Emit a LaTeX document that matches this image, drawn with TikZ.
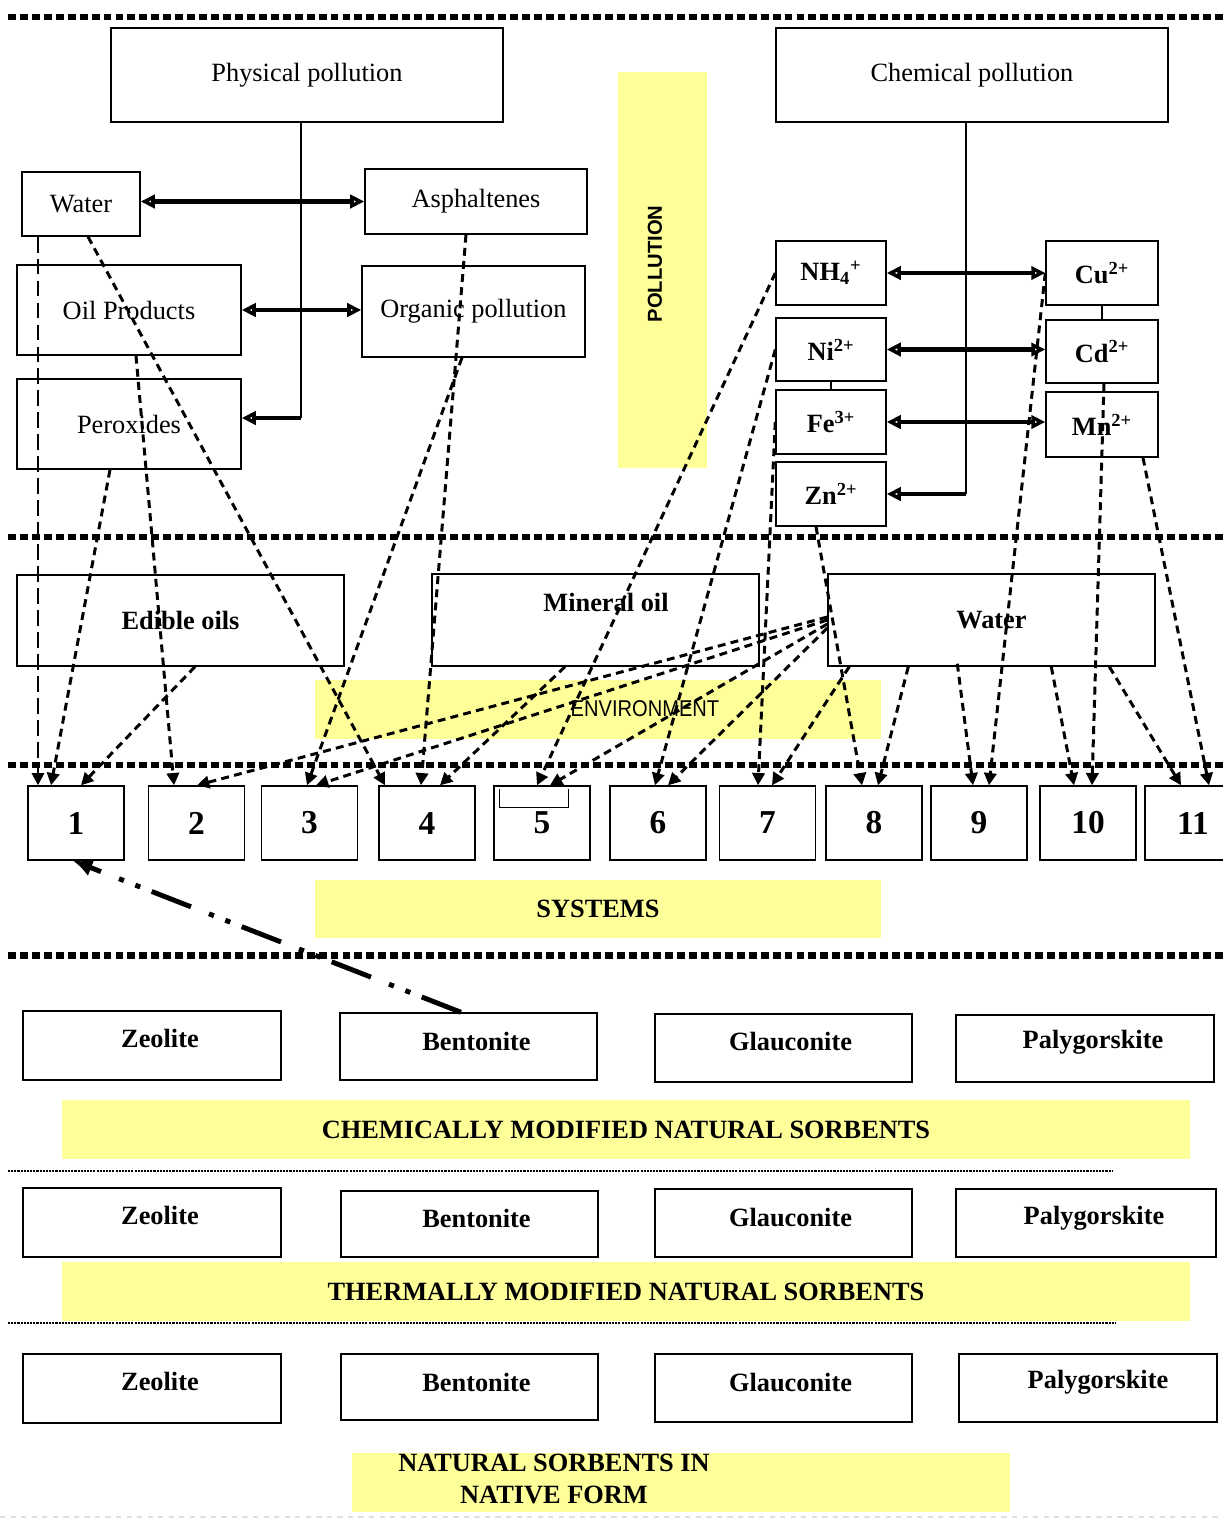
\documentclass[tikz,border=0pt]{standalone}
\usepackage{fontspec}
\setmainfont{Liberation Serif}
\newfontfamily\sansfont{Liberation Sans}
\newfontfamily\narrowsans[FakeStretch=0.88]{Liberation Sans}
\usetikzlibrary{arrows.meta}
\usetikzlibrary{calc}
\definecolor{bandyellow}{HTML}{FFFF99}

\begin{document}
\begin{tikzpicture}[x=0.02cm, y=-0.02cm,
    >={Triangle[open,length=8pt,width=7.5pt]},
    bx/.style 2 args={draw, line width=0.8pt, minimum width=#1*0.02cm,
      minimum height=#2*0.02cm, inner sep=1pt, font=\fontsize{15}{18}\selectfont},
    bxb/.style 2 args={bx={#1}{#2}, font=\fontsize{15}{18}\selectfont\bfseries},
    sysbox/.style={bx={96}{74}, font=\fontsize{19}{22}\selectfont\bfseries},
    band/.style 2 args={fill=bandyellow, minimum width=#1*0.02cm,
      minimum height=#2*0.02cm, inner sep=0pt, font=\fontsize{15}{18}\selectfont\bfseries},
    sorbtxt/.style={inner sep=0pt, font=\fontsize{15}{18}\selectfont\bfseries},
    sepline/.style={line width=3.4pt, dash pattern=on 4.5pt off 2.3pt},
    thinsep/.style={line width=1.1pt, dash pattern=on 1.2pt off 0.6pt},
    arw/.style={line width=2.4pt},
    trunk/.style={line width=0.7pt},
    dsh/.style={-{Triangle[length=7pt,width=7pt]}, line width=1.7pt,
      dash pattern=on 4.5pt off 3pt},
    ldsh/.style={-{Triangle[length=7pt,width=7pt]}, line width=1.4pt,
      dash pattern=on 9pt off 3.5pt},
    dshdot/.style={-{Latex[length=11pt,width=10pt]}, line width=2.8pt,
      dash pattern=on 24pt off 7pt on 3pt off 7pt on 3pt off 11pt}]

      \useasboundingbox (0,0) rectangle (1223,1519);

      % yellow bands
      \node [band={89}{396}, name=polband] at (662.5,270) {};
      \node [rotate=90, name=poltxt, font=\sansfont\bfseries\fontsize{11.5}{13}\selectfont]
      at (655,264) {POLLUTION};
      \node [band={566}{59}, name=envband] at (598,709.5) {};
      \node [name=envtxt, font=\narrowsans\fontsize{13}{15}\selectfont] at (645,709) {ENVIRONMENT};
      \node [band={566}{58}, name=sysband] at (598,909) {SYSTEMS};
      \node [band={1128}{59}, name=band1] at (626,1129.5) {CHEMICALLY MODIFIED NATURAL SORBENTS};
      \node [band={1128}{59}, name=band2] at (626,1291.5) {THERMALLY MODIFIED NATURAL SORBENTS};
      \node [band={658}{59}, name=band3] at (681,1482.5) {};
      \node [align=center, name=nattxt, font=\fontsize{15}{18.2}\selectfont\bfseries]
      at (554,1479) {NATURAL SORBENTS IN\\NATIVE FORM};

      % separators
      \draw [sepline] (8,17) -- (1223,17);
      \draw [sepline] (8,537) -- (1223,537);
      \draw [sepline] (8,765) -- (1223,765);
      \draw [sepline, line width=4pt] (8,955) -- (1223,955);
      \draw [thinsep] (8,1171) -- (1113,1171);
      \draw [thinsep] (8,1323) -- (1116,1323);
      \draw [gray!25, dashed, line width=0.6pt] (0,1517) -- (1223,1517);

      % pollution: physical
      \node [bx={392}{94}, name=phys] at (307,75) {Physical pollution};
      \node [bx={118}{64}, name=wtr] at (81,204) {Water};
      \node [bx={222}{65}, name=asph] at (476,201.5) {Asphaltenes};
      \node [bx={224}{90}, name=oilp] at (129,310) {Oil Products};
      \node [bx={223}{91}, name=orgp] at (473.5,311.5) {Organic pollution};
      \node [bx={224}{90}, name=perox] at (129,424) {Peroxides};

      \coordinate (phystop) at ($(phys.south)+(-6,0)$);
      \coordinate (physend) at ($(perox.east)+(0,-6)$);
      \draw [trunk] (phystop) -- (phystop |- physend);
      \draw [arw, ->] (phystop |- physend) -- (physend);
      \draw [arw, <->] (wtr.east |- asph.west) -- (asph.west);
      \draw [arw, <->] (oilp.east) -- (oilp.east -| orgp.west);

      % pollution: chemical
      \node [bx={392}{94}, name=chem] at (972,75) {Chemical pollution};
      \node [bxb={110}{64}, name=nh] at (831,273) {NH\textsubscript{4}\textsuperscript{+}};
      \node [bxb={110}{63}, name=ni] at (831,349.5) {Ni\textsuperscript{2+}};
      \node [bxb={110}{64}, name=fe] at (831,422) {Fe\textsuperscript{3+}};
      \node [bxb={110}{64}, name=zn] at (831,494) {Zn\textsuperscript{2+}};
      \node [bxb={112}{64}, name=cu] at (1102,273) {Cu\textsuperscript{2+}};
      \node [bxb={112}{63}, name=cd] at (1102,351.5) {Cd\textsuperscript{2+}};
      \node [bxb={112}{65}, name=mn] at (1102,424.5) {Mn\textsuperscript{2+}};

      \coordinate (chemtop) at ($(chem.south)+(-6,0)$);
      \draw [trunk] (chemtop) -- (chemtop |- zn.east);
      \draw [arw, ->] (chemtop |- zn.east) -- (zn.east);
      \draw [arw, <->] (nh.east) -- (cu.west);
      \draw [arw, <->] (ni.east) -- (ni.east -| cd.west);
      \draw [arw, <->] (fe.east) -- (fe.east -| mn.west);
      \draw [trunk] (cu.south) -- (cd.north);
      \draw [trunk] (ni.south) -- (fe.north);

      % environment
      \node [bxb={327}{91}, name=edib] at (180.5,620.5) {Edible oils};
      \node [bxb={327}{92}, name=minoil] at (595.5,620) {};
      \node [sorbtxt, name=mintxt] at (606,602) {Mineral oil};
      \node [bxb={327}{92}, name=wenv] at (991.5,620) {Water};

      % systems
      \node [sysbox, name=s1] at (76,823) {1};
      \node [sysbox, name=s2] at (196.5,823) {2};
      \node [sysbox, name=s3] at (309.5,823) {3};
      \node [sysbox, name=s4] at (427,823) {4};
      \node [sysbox, name=s5] at (542,823) {5};
      \node [sysbox, name=s6] at (658,823) {6};
      \node [sysbox, name=s7] at (767.5,823) {7};
      \node [sysbox, name=s8] at (874,823) {8};
      \node [sysbox, name=s9] at (979,823) {9};
      \node [sysbox, name=s10] at (1088,823) {10};
      \node [sysbox, name=s11] at (1193,823) {11};
      \draw [line width=0.5pt] ($(s5.north west)+(6,4)$) -- ++(0,18) -- ++(69,0) -- ++(0,-18);

      % connections to the systems
      \draw [ldsh] ($(wtr.south)+(-43,0)$) -- ($(s1.north)+(-38,0)$);
      \draw [dsh] ($(perox.south)+(-19,0)$) -- ($(s1.north)+(-25,0)$);
      \draw [dsh] ($(edib.south)+(14.5,0)$) -- ($(s1.north)+(5,0)$);
      \draw [dsh] ($(oilp.south)+(7,0)$) -- ($(s2.north)+(-22.5,0)$);
      \draw [dsh] ($(wenv.west)+(0,-3)$) -- ($(s2.north)+(0.5,0)$);
      \draw [dsh] ($(orgp.south)+(-11.5,0)$) -- ($(s3.north)+(-2.5,0)$);
      \draw [dsh] (wenv.west) -- ($(s3.north)+(6.5,0)$);
      \draw [dsh] ($(wtr.south)+(7,0)$) -- ($(s4.north)+(-42,0)$);
      \draw [dsh] ($(asph.south)+(-10,0)$) -- ($(s4.north)+(-6,0)$);
      \draw [dsh] ($(minoil.south)+(-30.5,0)$) -- ($(s4.north)+(13,0)$);
      \draw [dsh] (nh.west) -- ($(s5.north)+(-5,0)$);
      \draw [dsh] ($(wenv.west)+(0,4)$) -- ($(s5.north)+(8,0)$);
      \draw [dsh] (ni.west) -- ($(s6.north)+(-3,0)$);
      \draw [dsh] ($(wenv.west)+(0,8)$) -- ($(s6.north)+(10,0)$);
      \draw [dsh] (fe.west) -- ($(s7.north)+(-9.5,0)$);
      \draw [dsh] ($(wenv.south west)+(22,0)$) -- ($(s7.north)+(4.5,0)$);
      \draw [dsh] ($(zn.south)+(-15,0)$) -- ($(s8.north)+(-12,0)$);
      \draw [dsh] ($(wenv.south west)+(81,0)$) -- ($(s8.north)+(4,0)$);
      \draw [dsh] ($(wenv.south west)+(130,-3)$) -- ($(s9.north)+(-6,0)$);
      \draw [dsh] (cu.west) -- ($(s9.north)+(10,0)$);
      \draw [dsh] ($(wenv.south west)+(224,0)$) -- ($(s10.north)+(-14,0)$);
      \draw [dsh] ($(cd.south)+(2,0)$) -- ($(s10.north)+(4,0)$);
      \draw [dsh] ($(wenv.south west)+(282,0)$) -- ($(s11.north)+(-12,0)$);
      \draw [dsh] ($(mn.south)+(41,0)$) -- ($(s11.north)+(16,0)$);

      % sorbents: chemically modified
      \node [bx={258}{69}, name=zeo1] at (152,1045.5) {};
      \node [sorbtxt, name=zeo1t] at ($(zeo1)+(8,-7)$) {Zeolite};
      \node [bx={257}{67}, name=ben1] at (468.5,1046.5) {};
      \node [sorbtxt, name=ben1t] at ($(ben1)+(8,-5)$) {Bentonite};
      \node [bx={257}{68}, name=gla1] at (783.5,1048) {};
      \node [sorbtxt, name=gla1t] at ($(gla1)+(7,-6)$) {Glauconite};
      \node [bx={258}{67}, name=pal1] at (1085,1048.5) {};
      \node [sorbtxt, name=pal1t] at ($(pal1)+(8,-6)$) {Palygorskite};

      \draw [dshdot] ($(ben1.north)+(-7.5,0)$) -- ($(s1.south)+(-3,0)$);

      % sorbents: thermally modified
      \node [bx={258}{69}, name=zeo2] at (152,1222.5) {};
      \node [sorbtxt, name=zeo2t] at ($(zeo2)+(8,-7)$) {Zeolite};
      \node [bx={257}{66}, name=ben2] at (469.5,1224) {};
      \node [sorbtxt, name=ben2t] at ($(ben2)+(7,-6)$) {Bentonite};
      \node [bx={257}{68}, name=gla2] at (783.5,1223) {};
      \node [sorbtxt, name=gla2t] at ($(gla2)+(7,-5)$) {Glauconite};
      \node [bx={260}{68}, name=pal2] at (1086,1223) {};
      \node [sorbtxt, name=pal2t] at ($(pal2)+(8,-5)$) {Palygorskite};

      % sorbents: native form
      \node [bx={258}{69}, name=zeo3] at (152,1388.5) {};
      \node [sorbtxt, name=zeo3t] at ($(zeo3)+(8,-7)$) {Zeolite};
      \node [bx={257}{66}, name=ben3] at (469.5,1387) {};
      \node [sorbtxt, name=ben3t] at ($(ben3)+(7,-5)$) {Bentonite};
      \node [bx={257}{68}, name=gla3] at (783.5,1388) {};
      \node [sorbtxt, name=gla3t] at ($(gla3)+(7,-6)$) {Glauconite};
      \node [bx={258}{68}, name=pal3] at (1088,1388) {};
      \node [sorbtxt, name=pal3t] at ($(pal3)+(10,-6)$) {Palygorskite};
\end{tikzpicture}
\end{document}
